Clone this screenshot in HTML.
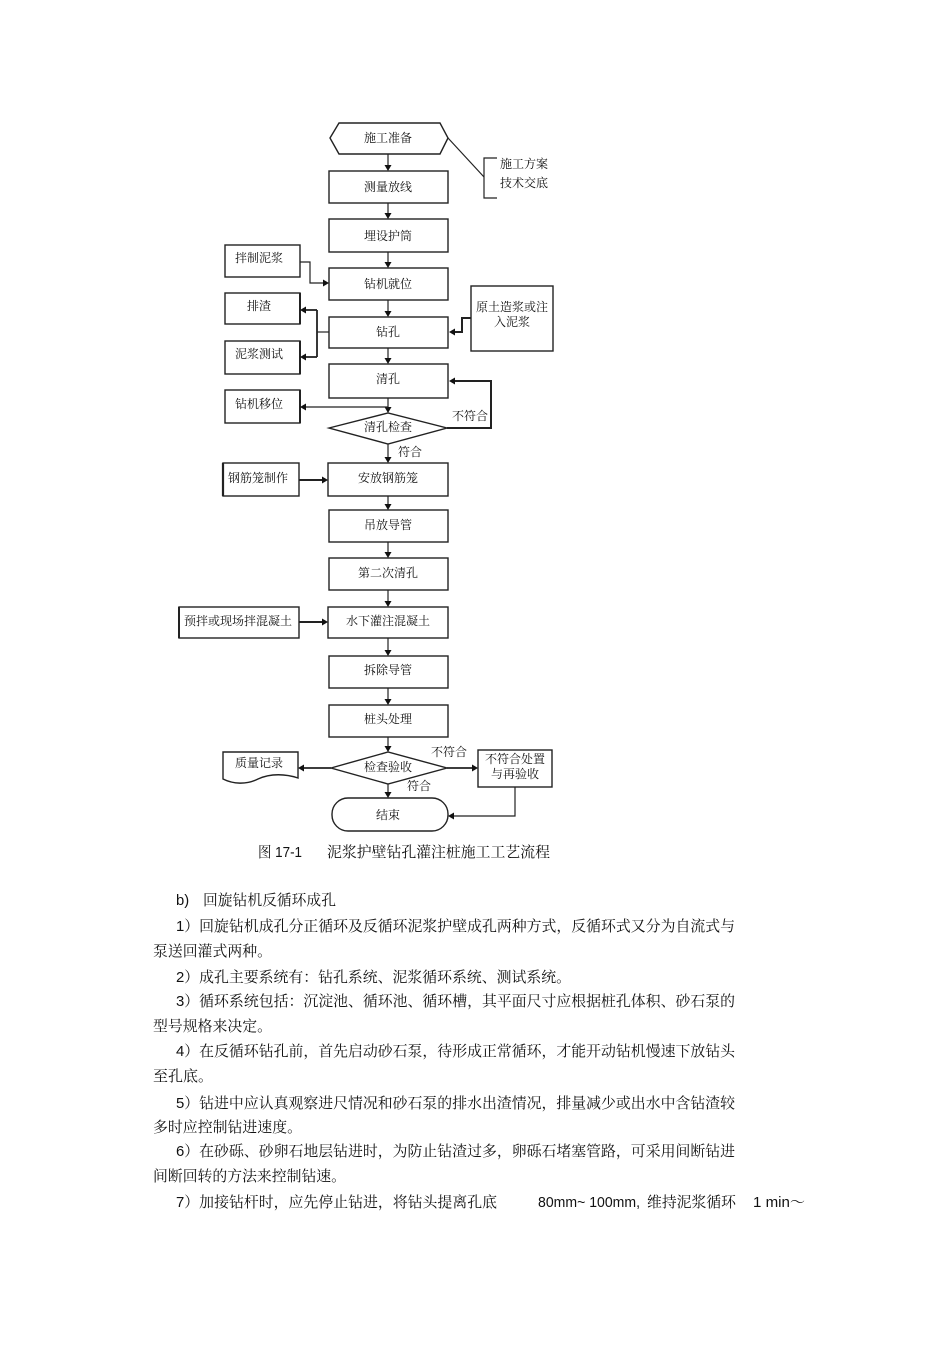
<!DOCTYPE html>
<html><head><meta charset="utf-8">
<style>
html,body{margin:0;padding:0;background:#fff;}
body{width:950px;height:1345px;position:relative;overflow:hidden;}
svg{position:absolute;left:0;top:0;}
.b{font-family:"Liberation Serif","Noto Serif CJK SC",serif;font-size:12px;fill:#111;}
.t{font-family:"Liberation Sans","Noto Serif CJK SC",serif;font-size:14.8px;fill:#111;}
.s{fill:none;stroke:#222;stroke-width:1.4;}
.l{fill:none;stroke:#222;stroke-width:1.2;}
.a{fill:#111;stroke:none;}
</style></head><body>
<svg width="950" height="1345" viewBox="0 0 950 1345" xmlns="http://www.w3.org/2000/svg">
<!-- main column shapes -->
<polygon class="s" points="330,138 339,123 440,123 448,138 440,154 339,154"/>
<rect class="s" x="329" y="171" width="119" height="32"/>
<rect class="s" x="329" y="219" width="119" height="33"/>
<rect class="s" x="329" y="268" width="119" height="32"/>
<rect class="s" x="329" y="317" width="119" height="31"/>
<rect class="s" x="329" y="364" width="119" height="34"/>
<polygon class="s" points="329,428 388,413 447,428 388,444"/>
<rect class="s" x="328" y="463" width="120" height="33"/>
<rect class="s" x="329" y="510" width="119" height="32"/>
<rect class="s" x="329" y="558" width="119" height="32"/>
<rect class="s" x="328" y="607" width="120" height="31"/>
<rect class="s" x="329" y="656" width="119" height="32"/>
<rect class="s" x="329" y="705" width="119" height="32"/>
<polygon class="s" points="331,768 388,752 447,768 388,784"/>
<rect class="s" x="332" y="798" width="116" height="33" rx="16" ry="16"/>
<!-- side boxes -->
<rect class="s" x="225" y="245" width="75" height="32"/>
<rect class="s" x="225" y="293" width="75" height="31"/>
<line x1="300" y1="293" x2="300" y2="324" stroke="#222" stroke-width="2"/>
<rect class="s" x="225" y="341" width="75" height="33"/>
<line x1="300" y1="341" x2="300" y2="374" stroke="#222" stroke-width="2"/>
<rect class="s" x="225" y="390" width="75" height="33"/>
<line x1="300" y1="390" x2="300" y2="423" stroke="#222" stroke-width="2"/>
<rect class="s" x="223" y="463" width="76" height="33"/>
<line x1="223" y1="463" x2="223" y2="496" stroke="#222" stroke-width="2.2"/>
<rect class="s" x="179" y="607" width="120" height="31"/>
<line x1="179" y1="607" x2="179" y2="638" stroke="#222" stroke-width="2"/>
<rect class="s" x="471" y="286" width="82" height="65"/>
<rect class="s" x="478" y="750" width="74" height="37"/>
<path class="s" d="M223,752 H298 V778 C286,774 271,773 258,779 C246,785 233,784 223,779 Z"/>
<!-- bracket -->
<line class="l" x1="448" y1="138" x2="484" y2="177"/>
<path class="l" d="M497,158 H484 V198 H497"/>
<!-- vertical connectors -->
<g class="l">
<line x1="388" y1="154" x2="388" y2="166"/>
<line x1="388" y1="203" x2="388" y2="214"/>
<line x1="388" y1="252" x2="388" y2="263"/>
<line x1="388" y1="300" x2="388" y2="312"/>
<line x1="388" y1="348" x2="388" y2="359"/>
<line x1="388" y1="398" x2="388" y2="408"/>
<line x1="388" y1="444" x2="388" y2="458"/>
<line x1="388" y1="496" x2="388" y2="505"/>
<line x1="388" y1="542" x2="388" y2="553"/>
<line x1="388" y1="590" x2="388" y2="602"/>
<line x1="388" y1="638" x2="388" y2="651"/>
<line x1="388" y1="688" x2="388" y2="700"/>
<line x1="388" y1="737" x2="388" y2="747"/>
<line x1="388" y1="784" x2="388" y2="793"/>
</g>
<g class="a">
<polygon points="384.5,165 391.5,165 388,171"/>
<polygon points="384.5,213 391.5,213 388,219"/>
<polygon points="384.5,262 391.5,262 388,268"/>
<polygon points="384.5,311 391.5,311 388,317"/>
<polygon points="384.5,358 391.5,358 388,364"/>
<polygon points="384.5,407 391.5,407 388,413"/>
<polygon points="384.5,457 391.5,457 388,463"/>
<polygon points="384.5,504 391.5,504 388,510"/>
<polygon points="384.5,552 391.5,552 388,558"/>
<polygon points="384.5,601 391.5,601 388,607"/>
<polygon points="384.5,650 391.5,650 388,656"/>
<polygon points="384.5,699 391.5,699 388,705"/>
<polygon points="384.5,746 391.5,746 388,752"/>
<polygon points="384.5,792 391.5,792 388,798"/>
</g>
<!-- horizontal connectors -->
<g class="l">
<line x1="388" y1="407" x2="306" y2="407"/>
<path d="M447,428 H491 V381 H455" stroke-width="2"/>
<line x1="299" y1="480" x2="322" y2="480" stroke-width="2"/>
<line x1="299" y1="622" x2="322" y2="622" stroke-width="2"/>
<path d="M300,262 H310 V283 H323"/>
<path d="M329,332 H317"/>
<path d="M317,310 V357" stroke-width="1.8"/>
<line x1="317" y1="310" x2="306" y2="310" stroke-width="1.8"/>
<line x1="317" y1="357" x2="306" y2="357" stroke-width="1.8"/>
<path d="M471,318 H462 V332 H455" stroke-width="2"/>
<line x1="331" y1="768" x2="304" y2="768" stroke-width="1.8"/>
<line x1="447" y1="768" x2="472" y2="768" stroke-width="1.8"/>
<path d="M515,787 V816 H454"/>
</g>
<g class="a">
<polygon points="306,403.5 306,410.5 300,407"/>
<polygon points="455,377.5 455,384.5 449,381"/>
<polygon points="322,476.5 322,483.5 328,480"/>
<polygon points="322,618.5 322,625.5 328,622"/>
<polygon points="323,279.5 323,286.5 329,283"/>
<polygon points="306,306.5 306,313.5 300,310"/>
<polygon points="306,353.5 306,360.5 300,357"/>
<polygon points="455,328.5 455,335.5 449,332"/>
<polygon points="304,764.5 304,771.5 298,768"/>
<polygon points="472,764.5 472,771.5 478,768"/>
<polygon points="454,812.5 454,819.5 448,816"/>
</g>
<!-- box labels -->
<g class="b" text-anchor="middle">
<text x="388" y="142">施工准备</text>
<text x="388" y="191">测量放线</text>
<text x="388" y="240">埋设护筒</text>
<text x="388" y="288">钻机就位</text>
<text x="388" y="336">钻孔</text>
<text x="388" y="383">清孔</text>
<text x="388" y="431">清孔检查</text>
<text x="388" y="482">安放钢筋笼</text>
<text x="388" y="529">吊放导管</text>
<text x="388" y="577">第二次清孔</text>
<text x="388" y="625">水下灌注混凝土</text>
<text x="388" y="674">拆除导管</text>
<text x="388" y="723">桩头处理</text>
<text x="388" y="771">检查验收</text>
<text x="388" y="819">结束</text>
<text x="259" y="262">拌制泥浆</text>
<text x="259" y="310">排渣</text>
<text x="259" y="358">泥浆测试</text>
<text x="259" y="408">钻机移位</text>
<text x="258" y="482">钢筋笼制作</text>
<text x="238" y="625">预拌或现场拌混凝土</text>
<text x="512" y="311">原土造浆或注</text>
<text x="512" y="326">入泥浆</text>
<text x="515" y="763">不符合处置</text>
<text x="515" y="778">与再验收</text>
<text x="259" y="767">质量记录</text>
<text x="470" y="420">不符合</text>
<text x="410" y="456">符合</text>
<text x="449" y="756">不符合</text>
<text x="419" y="790">符合</text>
</g>
<g class="b">
<text x="500" y="168">施工方案</text>
<text x="500" y="187">技术交底</text>
</g>
<!-- caption -->
<text class="t" x="258" y="857" font-size="14" textLength="44" lengthAdjust="spacingAndGlyphs">图 17-1</text>
<text class="t" x="327" y="857" font-size="14.5" textLength="223" lengthAdjust="spacingAndGlyphs">泥浆护壁钻孔灌注桩施工工艺流程</text>
<!-- body text -->
<text class="t" x="176" y="905">b)</text>
<text class="t" x="203" y="905" textLength="133" lengthAdjust="spacingAndGlyphs">回旋钻机反循环成孔</text>
<text class="t" x="176" y="931" textLength="559" lengthAdjust="spacingAndGlyphs">1）回旋钻机成孔分正循环及反循环泥浆护壁成孔两种方式，反循环式又分为自流式与</text>
<text class="t" x="153" y="956" textLength="119" lengthAdjust="spacingAndGlyphs">泵送回灌式两种。</text>
<text class="t" x="176" y="982" textLength="395" lengthAdjust="spacingAndGlyphs">2）成孔主要系统有：钻孔系统、泥浆循环系统、测试系统。</text>
<text class="t" x="176" y="1006" textLength="559" lengthAdjust="spacingAndGlyphs">3）循环系统包括：沉淀池、循环池、循环槽，其平面尺寸应根据桩孔体积、砂石泵的</text>
<text class="t" x="153" y="1031" textLength="119" lengthAdjust="spacingAndGlyphs">型号规格来决定。</text>
<text class="t" x="176" y="1056" textLength="559" lengthAdjust="spacingAndGlyphs">4）在反循环钻孔前，首先启动砂石泵，待形成正常循环，才能开动钻机慢速下放钻头</text>
<text class="t" x="153" y="1081" textLength="60" lengthAdjust="spacingAndGlyphs">至孔底。</text>
<text class="t" x="176" y="1108" textLength="559" lengthAdjust="spacingAndGlyphs">5）钻进中应认真观察进尺情况和砂石泵的排水出渣情况，排量减少或出水中含钻渣较</text>
<text class="t" x="153" y="1132" textLength="149" lengthAdjust="spacingAndGlyphs">多时应控制钻进速度。</text>
<text class="t" x="176" y="1156" textLength="559" lengthAdjust="spacingAndGlyphs">6）在砂砾、砂卵石地层钻进时，为防止钻渣过多，卵砾石堵塞管路，可采用间断钻进</text>
<text class="t" x="153" y="1181" textLength="193" lengthAdjust="spacingAndGlyphs">间断回转的方法来控制钻速。</text>
<text class="t" x="176" y="1207" textLength="321" lengthAdjust="spacingAndGlyphs">7）加接钻杆时，应先停止钻进，将钻头提离孔底</text>
<text class="t" x="538" y="1207" textLength="102" lengthAdjust="spacingAndGlyphs">80mm~ 100mm,</text>
<text class="t" x="647" y="1207" textLength="89" lengthAdjust="spacingAndGlyphs">维持泥浆循环</text>
<text class="t" x="753" y="1207" textLength="52" lengthAdjust="spacingAndGlyphs">1 min～</text>
</svg>
</body></html>
